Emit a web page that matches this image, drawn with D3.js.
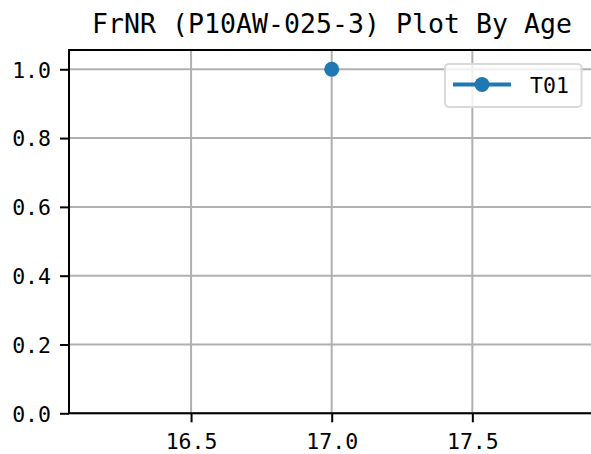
<!DOCTYPE html>
<html><head><meta charset="utf-8">
<script src="https://cdn.jsdelivr.net/npm/d3@7"></script>
<style>body{margin:0;background:#fff}svg{display:block}</style>
</head><body>
<script>
const titleText = "FrNR (P10AW-025-3) Plot By Age";
const seriesName = "T01";
const ages = [17.0];
const values = [1.0];
const xTicks = [16.5, 17.0, 17.5];
const yTicks = [0.0, 0.2, 0.4, 0.6, 0.8, 1.0];
const xDomain = [16.066, 17.934];
const yDomain = [0, 1.056];

(function () {
const W = 591, H = 454;
const mLeft = 69, mRight = 594.4, mTop = 50, mBottom = 413.3;
const font = "'DejaVu Sans Mono', 'Liberation Mono', monospace";
const blue = "#1f77b4";

const svg = d3.select("body").append("svg").attr("width", W).attr("height", H);
const x = d3.scaleLinear().domain(xDomain).range([mLeft, mRight]);
const y = d3.scaleLinear().domain(yDomain).range([mBottom, mTop]);

// grid
svg.append("g").selectAll("line").data(xTicks).join("line")
  .attr("x1", d => x(d)).attr("x2", d => x(d)).attr("y1", mTop).attr("y2", mBottom)
  .attr("stroke", "#b0b0b0").attr("stroke-width", 2);
svg.append("g").selectAll("line").data(yTicks).join("line")
  .attr("x1", mLeft).attr("x2", mRight).attr("y1", d => y(d)).attr("y2", d => y(d))
  .attr("stroke", "#b0b0b0").attr("stroke-width", 2);

// axes
const fmt = d3.format(".1f");
const xAxis = svg.append("g").attr("transform", `translate(0,${mBottom})`)
  .call(d3.axisBottom(x).tickValues(xTicks).tickFormat(fmt).tickSize(9).tickPadding(8));
const yAxis = svg.append("g").attr("transform", `translate(${mLeft},0)`)
  .call(d3.axisLeft(y).tickValues(yTicks).tickFormat(fmt).tickSize(9).tickPadding(9));
[xAxis, yAxis].forEach(g => {
  g.select(".domain").remove();
  g.selectAll(".tick line").attr("stroke", "#000").attr("stroke-width", 2);
  g.selectAll("text").attr("fill", "#000").style("font-family", font).style("font-size", "21.5px");
});
yAxis.selectAll("text").attr("dy", "0.36em");
xAxis.selectAll("text").attr("y", 35.5).attr("dy", 0);

// spines
svg.append("line").attr("x1", mLeft).attr("x2", mLeft).attr("y1", mTop).attr("y2", mBottom)
  .attr("stroke", "#000").attr("stroke-width", 2);
svg.append("line").attr("x1", mLeft - 1).attr("x2", mRight + 1).attr("y1", mBottom).attr("y2", mBottom)
  .attr("stroke", "#000").attr("stroke-width", 2);
svg.append("line").attr("x1", mLeft - 1).attr("x2", mRight + 1).attr("y1", mTop).attr("y2", mTop)
  .attr("stroke", "#000").attr("stroke-width", 2);

// data
const pts = ages.map((a, i) => [a, values[i]]);
svg.append("path").datum(pts)
  .attr("d", d3.line().x(d => x(d[0])).y(d => y(d[1])))
  .attr("fill", "none").attr("stroke", blue).attr("stroke-width", 4);
svg.append("g").selectAll("circle").data(pts).join("circle")
  .attr("cx", d => x(d[0])).attr("cy", d => y(d[1])).attr("r", 7.5).attr("fill", blue);

// title
svg.append("text").attr("x", 332).attr("y", 33).attr("text-anchor", "middle")
  .attr("textLength", 480).attr("lengthAdjust", "spacing")
  .style("font-family", font).style("font-size", "26.5px").attr("fill", "#000").text(titleText);

// legend
const lg = svg.append("g");
lg.append("rect").attr("x", 445).attr("y", 64).attr("width", 136.5).attr("height", 43).attr("rx", 4)
  .attr("fill", "rgba(255,255,255,0.8)").attr("stroke", "#d9d9d9").attr("stroke-width", 2);
lg.append("line").attr("x1", 453).attr("x2", 511).attr("y1", 84.5).attr("y2", 84.5)
  .attr("stroke", blue).attr("stroke-width", 4);
lg.append("circle").attr("cx", 482).attr("cy", 84.5).attr("r", 7.5).attr("fill", blue);
lg.append("text").attr("x", 530).attr("y", 92.5).style("font-family", font).style("font-size", "21.5px")
  .attr("fill", "#000").text(seriesName);
})();
</script>
</body></html>
